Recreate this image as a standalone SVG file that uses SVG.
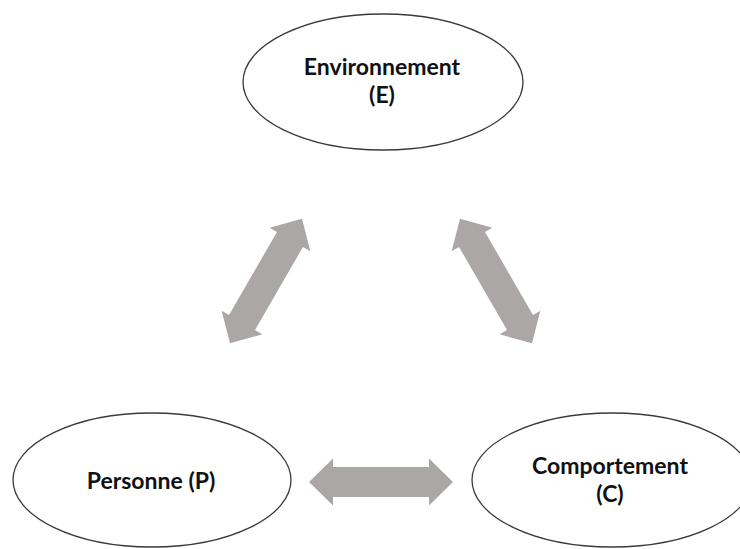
<svg xmlns="http://www.w3.org/2000/svg" width="740" height="549" viewBox="0 0 740 549">
<style>
.node ellipse{fill:#fff;stroke:#3a3a3a;stroke-width:1.3}
.node text{font-family:Lato,"Open Sans","Liberation Sans",sans-serif;font-weight:bold;font-size:23px;fill:#111;text-anchor:middle}
.arrow{fill:#aaa7a6}
</style>
<defs>
<polygon id="dbl" points="-72,0 -48,-23.5 -48,-15 48,-15 48,-23.5 72,0 48,23.5 48,15 -48,15 -48,23.5"/>
</defs>
<rect width="740" height="549" fill="#fff"/>
<g id="connectors">
<use href="#dbl" class="arrow" transform="translate(266,281) rotate(-60)"/>
<use href="#dbl" class="arrow" transform="translate(496,281) rotate(60)"/>
<use href="#dbl" class="arrow" transform="translate(381,482)"/>
</g>
<g id="node-environnement" class="node">
<ellipse cx="383" cy="82" rx="140" ry="68"/>
<text x="382" y="75">Environnement</text>
<text x="382" y="103">(E)</text>
</g>
<g id="node-personne" class="node">
<ellipse cx="152" cy="480" rx="139" ry="67"/>
<text x="151" y="489">Personne (P)</text>
</g>
<g id="node-comportement" class="node">
<ellipse cx="612" cy="480" rx="140" ry="67"/>
<text x="610" y="474">Comportement</text>
<text x="610" y="502">(C)</text>
</g>
</svg>
